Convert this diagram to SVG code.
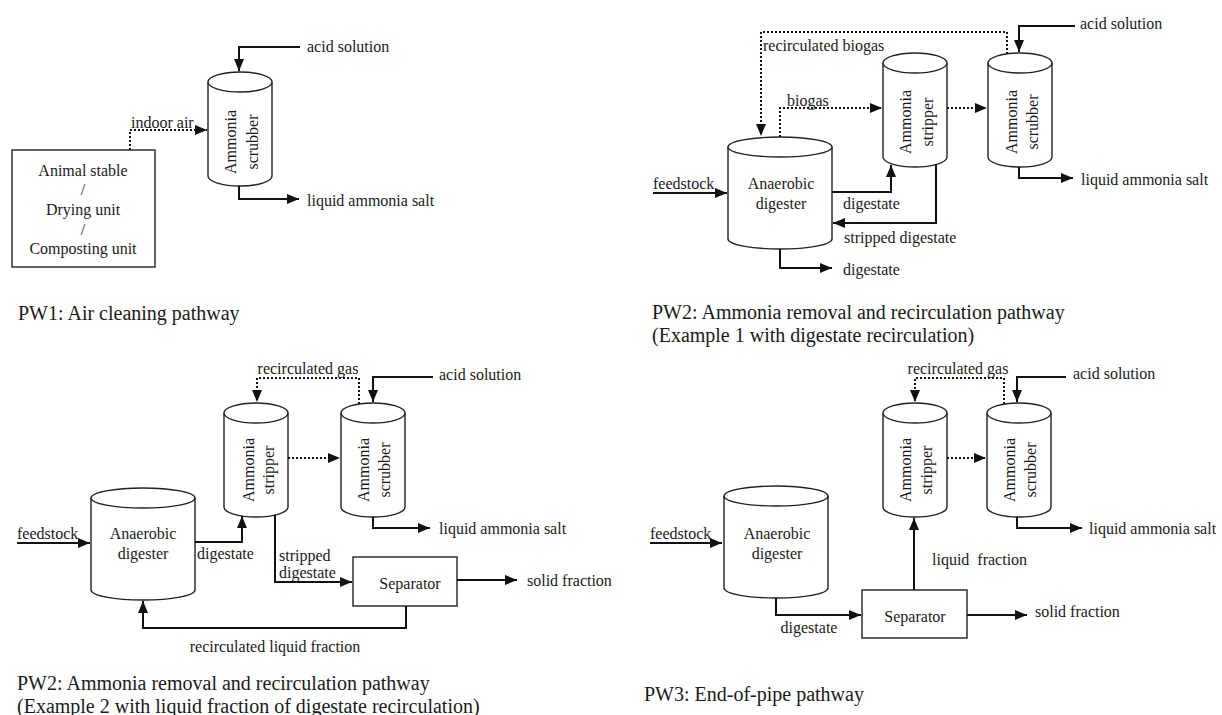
<svg xmlns="http://www.w3.org/2000/svg" width="1222" height="715" viewBox="0 0 1222 715">
<style>
text{font-family:"Liberation Serif","Times New Roman",serif;font-size:16px;fill:#1a1a1a}
.cap{font-size:20px}
.c{text-anchor:middle;dominant-baseline:central}
.l{dominant-baseline:central}
.shape{fill:#fff;stroke:#222;stroke-width:1.4}
.flow{fill:none;stroke:#111;stroke-width:2;marker-end:url(#ah)}
.gas{fill:none;stroke:#111;stroke-width:2;stroke-dasharray:2 2;marker-end:url(#ah)}
.gasn{fill:none;stroke:#111;stroke-width:2;stroke-dasharray:2 2}
</style>
<defs>
<marker id="ah" markerUnits="userSpaceOnUse" markerWidth="12" markerHeight="10" refX="12" refY="5" orient="auto">
<path d="M0,0 L12,5 L0,10 z" fill="#111"/>
</marker>
</defs>
<rect width="1222" height="715" fill="#fff"/>

<!-- ============ PW1 ============ -->
<g id="pw1-source">
<rect class="shape" x="12" y="150" width="143" height="117"/>
<text class="c" x="83" y="170">Animal stable</text>
<text class="c" x="83" y="189">/</text>
<text class="c" x="83" y="209">Drying unit</text>
<text class="c" x="83" y="229">/</text>
<text class="c" x="83" y="248">Composting unit</text>
</g>
<g id="pw1-scrubber">
<path class="shape" d="M208,82 V176 A32,10 0 0 0 272,176 V82"/>
<ellipse class="shape" cx="240" cy="82" rx="32" ry="10"/>
<text class="c" transform="translate(230,142) rotate(-90)">Ammonia</text>
<text class="c" transform="translate(252,142) rotate(-90)">scrubber</text>
</g>
<g id="pw1-connectors">
<polyline class="flow" points="300,47 239,47 239,71"/>
<polyline class="gas" points="130,150 130,130 207,130"/>
<polyline class="flow" points="239,186 239,199 299,199"/>
</g>
<g id="pw1-labels">
<text class="l" x="307" y="46">acid solution</text>
<text x="131" y="128">indoor air</text>
<text class="l" x="307" y="200">liquid ammonia salt</text>
<text class="l cap" x="18" y="313">PW1: Air cleaning pathway</text>
</g>

<!-- ============ PW2 Example 1 ============ -->
<g id="pw2a-digester">
<path class="shape" d="M728,147 V239 A52,10 0 0 0 832,239 V147"/>
<ellipse class="shape" cx="780" cy="147" rx="52" ry="10"/>
<text class="c" x="781" y="183">Anaerobic</text>
<text class="c" x="781" y="203">digester</text>
</g>
<g id="pw2a-stripper">
<path class="shape" d="M883,63 V157 A32,10 0 0 0 947,157 V63"/>
<ellipse class="shape" cx="915" cy="63" rx="32" ry="10"/>
<text class="c" transform="translate(905,122) rotate(-90)">Ammonia</text>
<text class="c" transform="translate(927,122) rotate(-90)">stripper</text>
</g>
<g id="pw2a-scrubber">
<path class="shape" d="M988,63 V157 A32,10 0 0 0 1052,157 V63"/>
<ellipse class="shape" cx="1020" cy="63" rx="32" ry="10"/>
<text class="c" transform="translate(1011,122) rotate(-90)">Ammonia</text>
<text class="c" transform="translate(1032,122) rotate(-90)">scrubber</text>
</g>
<g id="pw2a-connectors">
<polyline class="gas" points="1007,54 1007,32 761,32 761,136"/>
<polyline class="gas" points="780,137 780,108 882,108"/>
<polyline class="gas" points="947,108 987,108"/>
<polyline class="flow" points="653,193 727,193"/>
<polyline class="flow" points="832,192 891,192 891,165"/>
<polyline class="flow" points="936,165 936,223 833,223"/>
<polyline class="flow" points="780,249 780,268 832,268"/>
<polyline class="flow" points="1075,26 1019,26 1019,52"/>
<polyline class="flow" points="1019,167 1019,178 1073,178"/>
</g>
<g id="pw2a-labels">
<text class="l" x="763" y="45">recirculated biogas</text>
<text class="l" x="787" y="100">biogas</text>
<text x="653" y="189">feedstock</text>
<text class="l" x="843" y="203">digestate</text>
<text class="l" x="844" y="237">stripped digestate</text>
<text class="l" x="843" y="269">digestate</text>
<text class="l" x="1080" y="23">acid solution</text>
<text class="l" x="1081" y="179">liquid ammonia salt</text>
<text class="l cap" x="652" y="312">PW2: Ammonia removal and recirculation pathway</text>
<text class="l cap" x="652" y="335">(Example 1 with digestate recirculation)</text>
</g>

<!-- ============ PW2 Example 2 ============ -->
<g id="pw2b-digester">
<path class="shape" d="M91,498 V590 A52,10 0 0 0 195,590 V498"/>
<ellipse class="shape" cx="143" cy="498" rx="52" ry="10"/>
<text class="c" x="143" y="533">Anaerobic</text>
<text class="c" x="143" y="553">digester</text>
</g>
<g id="pw2b-stripper">
<path class="shape" d="M224,413 V507 A32,10 0 0 0 288,507 V413"/>
<ellipse class="shape" cx="256" cy="413" rx="32" ry="10"/>
<text class="c" transform="translate(248,470) rotate(-90)">Ammonia</text>
<text class="c" transform="translate(268,470) rotate(-90)">stripper</text>
</g>
<g id="pw2b-scrubber">
<path class="shape" d="M341,413 V507 A32,10 0 0 0 405,507 V413"/>
<ellipse class="shape" cx="373" cy="413" rx="32" ry="10"/>
<text class="c" transform="translate(363,470) rotate(-90)">Ammonia</text>
<text class="c" transform="translate(384,470) rotate(-90)">scrubber</text>
</g>
<g id="pw2b-separator">
<rect class="shape" x="353" y="557" width="104" height="49"/>
<text class="c" x="410" y="583">Separator</text>
</g>
<g id="pw2b-connectors">
<polyline class="gas" points="359,404 359,378 257,378 257,402"/>
<polyline class="flow" points="433,377 373,377 373,402"/>
<polyline class="gas" points="288,458 340,458"/>
<polyline class="flow" points="373,517 373,528 430,528"/>
<polyline class="flow" points="17,543 90,543"/>
<polyline class="flow" points="195,542 242,542 242,516"/>
<polyline class="flow" points="275,515 275,582 352,582"/>
<polyline class="flow" points="457,580 517,580"/>
<polyline class="flow" points="406,606 406,628 143,628 143,601"/>
</g>
<g id="pw2b-labels">
<text class="c" x="308" y="368">recirculated gas</text>
<text class="l" x="439" y="374">acid solution</text>
<text class="l" x="439" y="528">liquid ammonia salt</text>
<text x="17" y="539">feedstock</text>
<text class="l" x="197" y="553">digestate</text>
<text class="l" x="279" y="555">stripped</text>
<text x="279" y="578">digestate</text>
<text class="l" x="527" y="580">solid fraction</text>
<text class="c" x="275" y="646">recirculated liquid fraction</text>
<text class="l cap" x="17" y="683">PW2: Ammonia removal and recirculation pathway</text>
<text class="l cap" x="17" y="706">(Example 2 with liquid fraction of digestate recirculation)</text>
</g>

<!-- ============ PW3 ============ -->
<g id="pw3-digester">
<path class="shape" d="M724,496 V588 A52,10 0 0 0 828,588 V496"/>
<ellipse class="shape" cx="776" cy="496" rx="52" ry="10"/>
<text class="c" x="777" y="533">Anaerobic</text>
<text class="c" x="777" y="553">digester</text>
</g>
<g id="pw3-stripper">
<path class="shape" d="M883,413 V507 A32,10 0 0 0 947,507 V413"/>
<ellipse class="shape" cx="915" cy="413" rx="32" ry="10"/>
<text class="c" transform="translate(905,470) rotate(-90)">Ammonia</text>
<text class="c" transform="translate(926,470) rotate(-90)">stripper</text>
</g>
<g id="pw3-scrubber">
<path class="shape" d="M987,413 V507 A32,10 0 0 0 1051,507 V413"/>
<ellipse class="shape" cx="1019" cy="413" rx="32" ry="10"/>
<text class="c" transform="translate(1009,470) rotate(-90)">Ammonia</text>
<text class="c" transform="translate(1030,470) rotate(-90)">scrubber</text>
</g>
<g id="pw3-separator">
<rect class="shape" x="862" y="590" width="105" height="48"/>
<text class="c" x="915" y="616">Separator</text>
</g>
<g id="pw3-connectors">
<polyline class="gas" points="1004,404 1004,378 915,378 915,402"/>
<polyline class="flow" points="1066,377 1017,377 1017,402"/>
<polyline class="gas" points="947,458 986,458"/>
<polyline class="flow" points="1017,517 1017,528 1082,528"/>
<polyline class="flow" points="650,543 722,543"/>
<polyline class="flow" points="914,590 914,518"/>
<polyline class="flow" points="776,598 776,615 861,615"/>
<polyline class="flow" points="967,615 1027,615"/>
</g>
<g id="pw3-labels">
<text class="c" x="958" y="368">recirculated gas</text>
<text class="l" x="1073" y="373">acid solution</text>
<text class="l" x="1089" y="528">liquid ammonia salt</text>
<text x="650" y="539">feedstock</text>
<text class="l" x="932" y="559" xml:space="preserve">liquid  fraction</text>
<text class="c" x="809" y="627">digestate</text>
<text class="l" x="1035" y="611">solid fraction</text>
<text class="l cap" x="644" y="694">PW3: End-of-pipe pathway</text>
</g>
</svg>
